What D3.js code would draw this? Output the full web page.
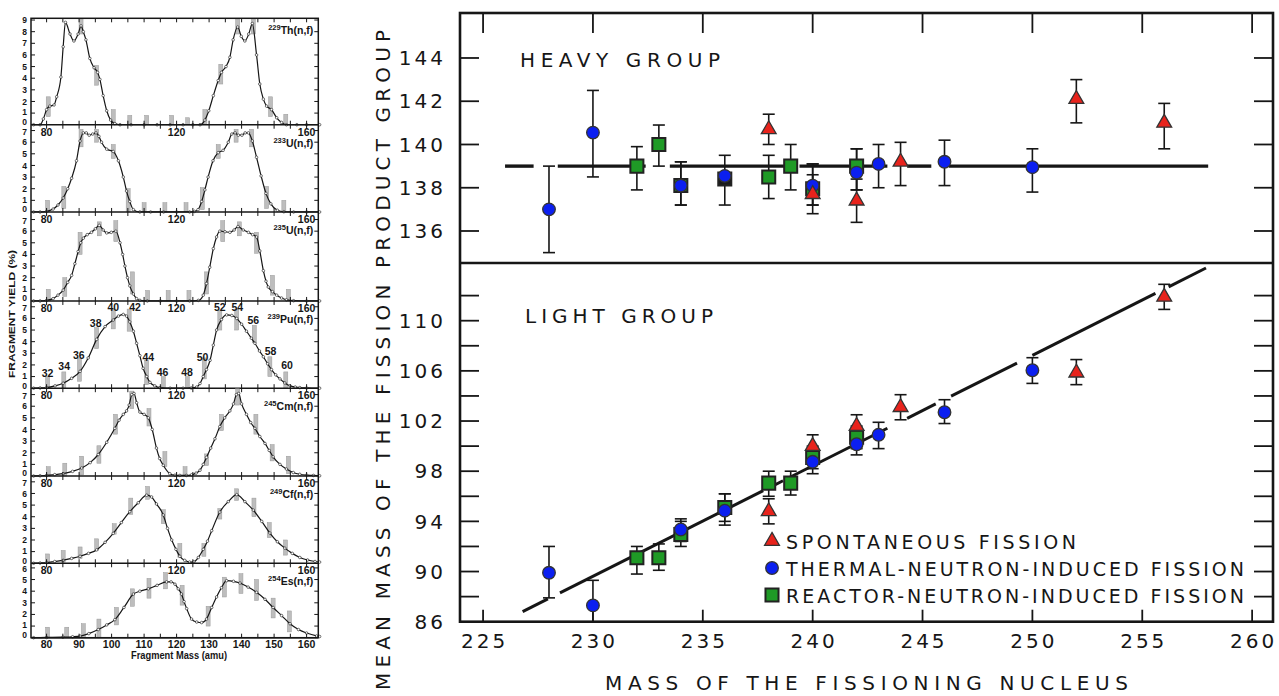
<!DOCTYPE html>
<html>
<head>
<meta charset="utf-8">
<script src="https://cdn.jsdelivr.net/npm/d3@7"></script>
<style>
  body { margin: 0; background: #fff; }
  svg { display: block; }
</style>
</head>
<body>
<svg id="chart" width="1279" height="696"></svg>
<script>
// ================= Fragment-mass yield distributions (left panel) =================
const isotopeMass = ["229", "233", "235", "239", "245", "249", "254"];
const isotopeElem = ["Th", "U", "U", "Pu", "Cm", "Cf", "Es"];
const yieldTop = [9.15, 7.5, 7.65, 7.5, 7.55, 7.5, 6.4];   // upper end of each yield axis (%)
const yieldTickMax = [9, 7, 7, 7, 7, 7, 6];
const massInnerLabels = [80, 120, 160];
const massBottomLabels = [80, 90, 100, 110, 120, 130, 140, 150, 160];

// [fragment mass (amu), yield (%)]
const curveTh229 = [[76,0],[78,0],[79,0.5],[80,1.3],[81,1.6],[82.3,1.7],[83.1,2.4],[84.4,4.1],[85.1,6.7],[85.8,8.8],[87.2,7.8],[88.4,7.2],[89.7,7.8],[90.6,8.5],[91.3,8.0],[92.1,7.3],[93.3,5.7],[94.6,4.9],[95.7,4.5],[96.4,3.9],[97.4,2.5],[98.5,1.2],[99.7,0.4],[101,0.1],[102.6,0],[106,0],[110,0],[114,0],[118,0],[122,0],[125,0],[127.2,0],[128.7,0.4],[129.9,1.2],[131.3,2.5],[132.8,3.8],[133.8,4.5],[135.2,5.0],[136.4,5.8],[137.4,7.3],[138.8,8.4],[139.9,7.6],[141.0,7.2],[142.2,7.8],[143.3,8.7],[144.6,6.0],[145.6,3.5],[146.7,2.2],[147.7,1.6],[149.2,1.3],[150.8,0.6],[152.3,0.2],[153.8,0],[157,0],[160,0],[164,0]];
const curveU233 = [[76,0],[78,0],[80,0.05],[82,0.25],[83.5,0.6],[85.1,1.2],[86.5,2.0],[87.7,2.9],[89.2,4.4],[90.3,6.1],[91.3,6.8],[92.2,6.8],[93.1,6.6],[94.2,6.7],[95.2,6.8],[96.1,6.5],[96.9,6.0],[98.5,5.4],[100.5,5.2],[102.1,4.4],[103.6,3.0],[104.6,1.8],[105.6,0.9],[106.7,0.2],[108.7,0],[112,0],[116,0],[120,0],[124,0],[125.5,0.05],[126.6,0.2],[127.7,0.9],[128.7,1.9],[129.7,3.0],[131.2,4.4],[132.8,5.1],[134.3,5.3],[135.9,6.0],[137.0,6.7],[138.0,6.8],[139.0,6.6],[140.1,6.6],[141.1,6.8],[142.1,6.8],[143.3,6.1],[144.6,4.7],[146,3.1],[147.5,1.6],[149,0.7],[151,0.15],[153,0.02],[156,0],[160,0],[164,0]];
const curveU235 = [[76,0],[78,0],[80,0.05],[82,0.2],[83.5,0.5],[85.1,0.93],[86.5,1.6],[87.7,2.2],[88.7,3.2],[89.7,4.25],[90.5,5.0],[91.3,5.4],[92.5,5.7],[93.8,5.9],[95,6.2],[96.2,6.5],[97.4,6.1],[98.5,5.85],[99.9,5.9],[101.3,6.0],[102.6,5.0],[103.4,4.0],[104.1,3.0],[104.9,2.0],[105.6,1.3],[106.7,0.6],[107.7,0.2],[108.7,0.05],[111,0],[115,0],[120,0],[124,0],[126.7,0.05],[128.2,0.5],[129.2,1.5],[130.2,2.9],[131.3,4.5],[132.3,5.5],[133.3,6.0],[134.9,5.95],[136.4,5.9],[137.7,6.1],[138.9,6.4],[140.5,6.1],[142.1,5.9],[143.4,5.7],[144.6,5.5],[145.6,4.3],[146.7,2.6],[147.5,1.7],[148.2,1.2],[149.5,0.8],[150.8,0.5],[152.3,0.25],[153.8,0.1],[156,0.02],[160,0],[164,0]];
const curvePu239 = [[76,0],[78,0.02],[80,0.05],[82.6,0.2],[85.1,0.43],[87.7,0.85],[90.3,1.45],[92.8,2.6],[95.4,4.2],[98,5.3],[100.5,5.86],[102.1,6.2],[103.6,6.34],[104.6,6.2],[105.6,5.7],[106.7,4.9],[107.7,3.86],[108.7,2.8],[109.7,1.71],[110.8,1.0],[111.8,0.5],[113.3,0.2],[114.9,0.05],[118,0],[122,0],[124.5,0.02],[126.2,0.1],[127.2,0.4],[128.2,1.0],[129.2,1.6],[130.3,2.4],[131.3,3.7],[132.3,5.0],[133.8,5.9],[135.4,6.3],[137,6.25],[138.5,6.0],[140,5.5],[141.5,4.9],[143,4.3],[144.1,3.86],[145.5,3.2],[146.7,2.7],[148,2.1],[149.2,1.6],[150.5,1.15],[151.8,0.8],[153.3,0.45],[154.9,0.2],[156.5,0.1],[157.9,0.05],[160,0.02],[164,0]];
const curveCm245 = [[76,0],[78,0.02],[80,0.05],[82.5,0.12],[85.1,0.2],[88,0.4],[90.8,0.69],[93.4,1.15],[95.9,1.85],[98.5,2.9],[101,4.1],[102.3,4.8],[103.6,5.3],[104.6,5.6],[105.4,6.1],[106.2,7.0],[106.9,7.1],[107.7,6.3],[108.7,5.5],[110,5.3],[111.3,5.0],[112.5,4.0],[113.8,2.4],[114.8,1.5],[115.9,0.92],[117.9,0.2],[119.5,0.07],[121,0.05],[123,0.05],[124.6,0.1],[126,0.25],[127.2,0.5],[128.2,1.0],[129.2,1.6],[130.5,2.4],[131.8,3.2],[133.3,4.25],[134.8,5.0],[136.4,5.6],[137.5,6.2],[138.4,7.0],[139.1,7.1],[140,6.2],[141.5,5.3],[142.8,4.6],[144.1,4.1],[145.6,3.4],[147.2,2.8],[148.5,2.2],[149.7,1.65],[151.8,1.0],[153.8,0.6],[155.9,0.3],[157.9,0.15],[160,0.08],[162.1,0.05],[164,0.02]];
const curveCf249 = [[76,0],[78,0.02],[80,0.05],[82.5,0.15],[85.1,0.25],[87.7,0.42],[90.3,0.6],[92.9,0.85],[95.4,1.15],[98,1.8],[100.5,2.57],[103,3.5],[105.6,4.43],[108.2,5.2],[110.8,5.85],[112.3,5.7],[113.8,5.1],[115.9,4.15],[117.2,3.0],[118.5,2.0],[119.8,1.2],[121,0.6],[122.5,0.25],[124,0.1],[125.3,0.12],[126.7,0.5],[128.2,1.2],[129.5,1.9],[130.8,2.8],[133.3,4.4],[135.9,5.3],[138.5,5.9],[141,5.3],[143.6,4.57],[146.2,3.6],[148.7,2.6],[151,1.85],[153.3,1.3],[155.6,0.85],[157.9,0.5],[160.3,0.28],[162.6,0.15],[164,0.1]];
const curveEs254 = [[76,0],[80,0.02],[85,0.05],[88,0.08],[90.3,0.14],[93,0.35],[95.9,0.7],[98.5,1.1],[101,1.55],[103.8,2.6],[106.7,3.75],[108.7,4.0],[111.3,4.2],[114,4.5],[116.9,4.8],[118.3,4.8],[119.5,4.6],[120.5,4.2],[121.5,3.75],[122.3,3.1],[123.1,2.5],[124.6,1.6],[126.2,1.35],[127.7,1.3],[129.2,1.6],[130.8,2.6],[132.3,3.5],[133.8,4.3],[135.4,4.9],[137.5,4.85],[139.5,4.7],[142,4.35],[144.6,3.9],[147.2,3.3],[149.7,2.6],[152.3,1.9],[154.9,1.2],[157.5,0.7],[160,0.4],[163.1,0.15],[164,0.1]];

// measured yield ranges: [mass, low, high]
const rangesTh229 = [[80.5,0.7,2.4],[90.6,7.8,9.1],[95.4,3.4,5.1],[100.5,0,1.3],[105.6,0,0.8],[110.8,0,0.8],[118.5,0,0.8],[123.4,0,0.6],[128.7,0.1,1.3],[133.6,3.5,5.2],[138.8,7.8,9.1],[143.6,7.8,9.1],[148.9,0.7,2.4],[153.6,0,0.9]];
const rangesU233 = [[80.3,0,1.0],[85.3,0.3,2.2],[90.6,5.6,7.1],[95.4,6.0,7.1],[100.5,4.6,5.8],[105.1,0,2.0],[110.0,0,0.8],[116.4,0,0.8],[122.9,0,0.8],[127.9,0.2,2.1],[132.8,4.6,5.8],[138.3,6.0,7.1],[143.1,5.6,7.1],[147.7,0.3,2.2],[153.0,0,1.0]];
const rangesU235 = [[80.5,0,1.0],[85.6,0.4,2.0],[90.3,4.0,5.9],[96.2,5.6,6.8],[101.3,5.1,6.9],[106.4,0.6,2.5],[111.1,0,0.9],[117.4,0,0.9],[123.8,0,0.9],[129.2,0.6,2.5],[134.2,5.1,6.9],[139.3,5.6,6.8],[144.6,4.1,5.9],[149.5,0.5,2.2],[154.4,0,1.0]];
const rangesPu239 = [[80.3,0,1.0],[85.3,0,1.4],[90.1,0.6,2.6],[95.4,3.4,5.2],[100.5,5.1,6.8],[105.4,4.9,6.8],[110.8,0.3,2.4],[115.9,0,1.0],[123.3,0,1.0],[128.5,0.8,2.6],[133.3,5.0,6.7],[138.5,5.0,6.8],[143.9,3.9,5.4],[148.7,1.0,2.7],[153.6,0,1.4]];
const rangesCm245 = [[80.5,0,0.8],[85.6,0,1.1],[90.8,0.1,1.7],[96.1,1.1,2.6],[101.2,3.6,5.3],[106.2,5.8,7.3],[111.5,4.3,5.8],[116.4,0.8,2.1],[122.6,0,0.8],[129.2,0.9,1.9],[133.8,3.9,5.3],[138.8,6.1,7.5],[144.4,3.6,5.3],[149.4,1.3,2.7],[154.4,0.2,1.7]];
const rangesCf249 = [[80.3,0,0.8],[85.1,0.1,1.1],[90.3,0.4,1.4],[95.4,1.1,2.1],[100.8,2.5,3.4],[105.9,4.2,5.6],[111.1,5.5,6.6],[115.9,3.4,4.6],[121.0,0.5,1.7],[128.4,0.6,1.7],[133.3,3.8,4.7],[138.5,5.4,6.4],[143.8,4.0,5.6],[148.5,2.2,3.5],[153.5,0.7,2.0]];
const rangesEs254 = [[80.3,0,0.9],[86.2,0,0.9],[91.3,0,1.2],[96.1,0,1.6],[101.5,1.1,2.6],[106.4,2.7,4.2],[111.5,3.4,5.1],[116.6,4.2,5.6],[121.7,2.8,4.5],[129.7,1.0,2.7],[134.7,3.5,5.2],[139.8,3.8,5.5],[144.6,3.2,5.0],[149.7,1.7,3.4],[154.7,0.5,2.3]];

const yieldCurves = [curveTh229, curveU233, curveU235, curvePu239, curveCm245, curveCf249, curveEs254];
const yieldRanges = [rangesTh229, rangesU233, rangesU235, rangesPu239, rangesCm245, rangesCf249, rangesEs254];

// charge-chain annotations on the 239Pu distribution
const puChainText  = ["32","34","36","38","40","42","44","46","48","50","52","54","56","58","60"];
const puChainMass  = [80.3, 85.4, 89.9, 95.1, 100.5, 107.2, 111.3, 115.7, 123.2, 128.0, 133.3, 138.7, 143.6, 148.9, 154.0];
const puChainYield = [1.3, 1.85, 2.85, 5.6, 7.0, 7.0, 2.65, 1.35, 1.35, 2.65, 7.0, 7.0, 5.85, 3.15, 1.95];

// ================= Mean fragment masses (right panel) =================
const xTicks = [225, 230, 235, 240, 245, 250, 255, 260];
const heavyTicks = [136, 138, 140, 142, 144];
const lightMinorTicks = [88, 90, 92, 94, 96, 98, 100, 102, 104, 106, 108, 110, 112];
const lightLabels = [86, 90, 94, 98, 102, 106, 110];

// [mass of fissioning nucleus, mean mass, error low, error high]
const heavySpontaneous = [[238,140.7,140.0,141.4],[240,137.7,136.8,138.6],[242,137.4,136.4,138.4],[244,139.2,138.1,140.1],[252,142.1,141.0,143.0],[256,141.0,139.8,141.9]];
const heavyThermal = [[228,137.0,135.0,139.0],[230,140.55,138.5,142.5],[234,138.1,137.2,139.2],[236,138.55,137.2,139.5],[240,138.1,137.2,139.1],[242,138.7,137.9,139.8],[243,139.1,138.0,140.0],[246,139.2,138.1,140.2],[250,138.95,137.8,139.8]];
const heavyReactor = [[232,139.0,137.9,139.9],[233,140.0,139.0,140.9],[234,138.1,137.2,139.2],[238,138.5,137.5,139.5],[239,139.0,137.9,140.0],[240,137.95,137.2,139.1],[242,139.0,137.9,139.8]];
const heavyUnmarked = [[236,138.4]];

const lightSpontaneous = [[238,94.8,93.8,95.8],[240,100.0,99.1,100.9],[242,101.6,100.6,102.5],[244,103.1,102.1,104.1],[252,105.85,104.9,106.9],[256,111.9,110.9,112.9]];
const lightThermal = [[228,89.9,87.9,92.0],[230,87.3,85.3,89.3],[234,93.35,92.4,94.2],[236,94.85,93.7,96.2],[240,98.75,97.8,99.7],[242,100.15,99.3,101.1],[243,100.9,99.8,101.9],[246,102.7,101.8,103.7],[250,106.05,105.0,107.05]];
const lightReactor = [[232,91.1,89.8,92.0],[233,91.1,90.1,92.2],[234,92.95,92.0,94.0],[236,95.1,94.0,96.2],[238,97.05,96.0,98.0],[239,97.05,96.1,98.0],[240,99.1,98.2,100.0],[242,100.7,99.8,101.6]];

// fitted trends: heavy group constant, light group linear
const heavyFitSpan = [226, 258];
const heavyFitLevel = 139.0;
const heavyFitGaps = [[227.3,228.4],[232.4,233.5],[239.0,239.4],[243.4,244.3],[245.4,246.2]];
const lightFitSpan = [226.8, 257.9];
const lightFitEnds = [86.8, 114.2];
const lightFitGaps = [[227.95,228.5],[237.75,238.1],[238.65,238.85],[243.4,244.3],[245.6,246.3],[249.3,250.0],[255.6,256.2]];

const legendLabels = ["SPONTANEOUS FISSION", "THERMAL-NEUTRON-INDUCED FISSION", "REACTOR-NEUTRON-INDUCED FISSION"];

// =====================================================================
const svg = d3.select("#chart");
const INK = "#161616";

// ---------------- left panel ----------------
const LP = { x0: 31, x1: 318.3, y0: 18.3, y1: 637.7 };
const fx = d3.scaleLinear().domain([75.2, 163.6]).range([LP.x0, LP.x1]);
const unitPx = (LP.y1 - LP.y0) / d3.sum(yieldTop);
let cursor = LP.y0;
const panels = yieldTop.map((top, i) => {
  const t = cursor, h = top * unitPx;
  cursor += h;
  return { i, top: t, bottom: t + h, y: d3.scaleLinear().domain([0, top]).range([t + h, t]) };
});

const left = svg.append("g").attr("font-family", "Liberation Sans").attr("font-weight", "bold").attr("fill", INK);
const massTicks = d3.range(75, 165, 5).filter(m => m > 75.2 && m < 163.6);
const smooth = d3.line().curve(d3.curveMonotoneX);

panels.forEach(p => {
  const g = left.append("g");
  // measured yield ranges
  g.selectAll("rect.range").data(yieldRanges[p.i]).join("rect")
    .attr("x", d => fx(d[0]) - 2).attr("width", 4)
    .attr("y", d => p.y(Math.min(d[2], yieldTop[p.i])))
    .attr("height", d => p.y(d[1]) - p.y(Math.min(d[2], yieldTop[p.i])))
    .attr("fill", "#bdbdbd").attr("stroke", "#9a9a9a").attr("stroke-width", 0.5);
  // yield curve
  const pts = yieldCurves[p.i].map(d => [fx(d[0]), p.y(d[1])]);
  g.append("path").attr("d", smooth(pts)).attr("fill", "none").attr("stroke", INK).attr("stroke-width", 1.2);
  g.selectAll("circle").data(pts).join("circle")
    .attr("cx", d => d[0]).attr("cy", d => d[1]).attr("r", 1.3)
    .attr("fill", "#fff").attr("stroke", INK).attr("stroke-width", 0.6);

  // yield ticks on both sides
  const yt = d3.range(1, yieldTickMax[p.i] + 1);
  g.selectAll("line.yl").data(yt).join("line").attr("class", "yl")
    .attr("x1", LP.x0).attr("x2", LP.x0 + 4).attr("y1", d => p.y(d)).attr("y2", d => p.y(d))
    .attr("stroke", INK).attr("stroke-width", 1);
  g.selectAll("line.yr").data(yt).join("line").attr("class", "yr")
    .attr("x1", LP.x1 - 4).attr("x2", LP.x1).attr("y1", d => p.y(d)).attr("y2", d => p.y(d))
    .attr("stroke", INK).attr("stroke-width", 1);
  // yield labels, spread slightly near the strip edges so neighbouring strips don't collide
  const last = yieldTickMax[p.i];
  const nudge = d => (d === 0 ? -2.6 : d === 1 ? -0.8 : (d === last && p.i > 0) ? 1.5 : 0);
  g.selectAll("text.yv").data(d3.range(0, last + 1)).join("text").attr("class", "yv")
    .attr("x", 27).attr("y", d => p.y(d) + nudge(d))
    .attr("dy", "0.36em").attr("text-anchor", "end")
    .attr("font-size", 8.5).text(d => d);
  // mass ticks along the bottom and top of each strip
  g.selectAll("line.mb").data(massTicks).join("line").attr("class", "mb")
    .attr("x1", d => fx(d)).attr("x2", d => fx(d)).attr("y1", p.bottom).attr("y2", p.bottom - 4)
    .attr("stroke", INK).attr("stroke-width", 1);
  g.selectAll("line.mt").data(massTicks).join("line").attr("class", "mt")
    .attr("x1", d => fx(d)).attr("x2", d => fx(d)).attr("y1", p.top).attr("y2", p.top + 4)
    .attr("stroke", INK).attr("stroke-width", 1);
  // mass labels just under the strip's top edge
  if (p.i > 0) {
    g.selectAll("text.ml").data(massInnerLabels).join("text").attr("class", "ml")
      .attr("x", d => fx(d)).attr("y", p.top + 7).attr("dy", "0.36em")
      .attr("text-anchor", "middle").attr("font-size", 10.5).text(d => d);
  }
  // isotope label
  const lab = g.append("text").attr("x", LP.x1 - 5).attr("y", p.top + (p.i === 0 ? 16 : 22))
    .attr("text-anchor", "end").attr("font-size", 10.5);
  lab.append("tspan").attr("font-size", 7.5).attr("dy", -4).text(isotopeMass[p.i]);
  lab.append("tspan").attr("dy", 4).text(isotopeElem[p.i] + "(n,f)");
  // strip boundary
  g.append("line").attr("x1", LP.x0).attr("x2", LP.x1).attr("y1", p.bottom).attr("y2", p.bottom)
    .attr("stroke", INK).attr("stroke-width", 1.5);
});

// chain annotations on the plutonium strip
const puPanel = panels[3];
left.append("g").selectAll("text").data(puChainText).join("text")
  .attr("x", (d, i) => fx(puChainMass[i])).attr("y", (d, i) => puPanel.y(puChainYield[i]))
  .attr("dy", "0.36em").attr("text-anchor", "middle").attr("font-size", 10.5).text(d => d);

left.append("rect").attr("x", LP.x0).attr("y", LP.y0).attr("width", LP.x1 - LP.x0).attr("height", LP.y1 - LP.y0)
  .attr("fill", "none").attr("stroke", INK).attr("stroke-width", 1.5);

left.append("g").selectAll("text").data(massBottomLabels).join("text")
  .attr("x", d => fx(d)).attr("y", LP.y1 + 7).attr("dy", "0.36em")
  .attr("text-anchor", "middle").attr("font-size", 10.5).text(d => d);
left.append("text").attr("x", 131).attr("y", 659).attr("font-size", 10.5)
  .attr("textLength", 96).attr("lengthAdjust", "spacingAndGlyphs").text("Fragment Mass (amu)");
left.append("text").attr("transform", "translate(15,378) rotate(-90)").attr("font-size", 9.5)
  .attr("textLength", 128).attr("lengthAdjust", "spacingAndGlyphs").text("FRAGMENT YIELD (%)");

// ---------------- right panel ----------------
const RP = { x0: 460, x1: 1273, top: 13, mid: 263, bottom: 621.7 };
const xr = d3.scaleLinear().domain([223.95, 260.95]).range([RP.x0, RP.x1]);
const yH = d3.scaleLinear().domain([134.52, 146.08]).range([RP.mid, RP.top]);
const yL = d3.scaleLinear().domain([86, 114.6]).range([RP.bottom, RP.mid]);

const right = svg.append("g").attr("font-family", "DejaVu Sans").attr("fill", INK);

// ticks
right.append("g").selectAll("line").data(xTicks).join("line")
  .attr("x1", d => xr(d)).attr("x2", d => xr(d)).attr("y1", RP.top).attr("y2", RP.top + 20)
  .attr("stroke", INK).attr("stroke-width", 1.8);
right.append("g").selectAll("line").data(xTicks).join("line")
  .attr("x1", d => xr(d)).attr("x2", d => xr(d)).attr("y1", RP.bottom).attr("y2", RP.bottom - 12)
  .attr("stroke", INK).attr("stroke-width", 1.8);
[RP.x0, RP.x1].forEach((xe, k) => {
  const dir = k === 0 ? 1 : -1;
  right.append("g").selectAll("line").data(heavyTicks).join("line")
    .attr("x1", xe).attr("x2", xe + dir * 19).attr("y1", d => yH(d)).attr("y2", d => yH(d))
    .attr("stroke", INK).attr("stroke-width", 1.8);
  right.append("g").selectAll("line").data(lightMinorTicks).join("line")
    .attr("x1", xe).attr("x2", xe + dir * 19).attr("y1", d => yL(d)).attr("y2", d => yL(d))
    .attr("stroke", INK).attr("stroke-width", 1.8);
});

// tick labels
const tickFont = { size: 20, ls: 3 };
right.append("g").selectAll("text").data(heavyTicks).join("text")
  .attr("x", 446).attr("y", d => yH(d)).attr("dy", "0.36em").attr("text-anchor", "end")
  .attr("font-size", tickFont.size).attr("letter-spacing", tickFont.ls).text(d => d);
right.append("g").selectAll("text").data(lightLabels).join("text")
  .attr("x", 446).attr("y", d => yL(d)).attr("dy", "0.36em").attr("text-anchor", "end")
  .attr("font-size", tickFont.size).attr("letter-spacing", tickFont.ls).text(d => d);
right.append("g").selectAll("text").data(xTicks).join("text")
  .attr("x", d => xr(d) + tickFont.ls / 2).attr("y", 648).attr("text-anchor", "middle")
  .attr("font-size", tickFont.size).attr("letter-spacing", tickFont.ls).text(d => d);

// fitted lines, broken where they meet the measured points
function segments(span, gaps) {
  const cuts = [span[0]];
  gaps.forEach(g => cuts.push(g[0], g[1]));
  cuts.push(span[1]);
  return d3.range(0, cuts.length, 2).map(k => [cuts[k], cuts[k + 1]]);
}
const lightAt = a => lightFitEnds[0] + (lightFitEnds[1] - lightFitEnds[0]) * (a - lightFitSpan[0]) / (lightFitSpan[1] - lightFitSpan[0]);
right.append("g").selectAll("line").data(segments(heavyFitSpan, heavyFitGaps)).join("line")
  .attr("x1", d => xr(d[0])).attr("x2", d => xr(d[1]))
  .attr("y1", yH(heavyFitLevel)).attr("y2", yH(heavyFitLevel))
  .attr("stroke", INK).attr("stroke-width", 3.4);
right.append("g").selectAll("line").data(segments(lightFitSpan, lightFitGaps)).join("line")
  .attr("x1", d => xr(d[0])).attr("x2", d => xr(d[1]))
  .attr("y1", d => yL(lightAt(d[0]))).attr("y2", d => yL(lightAt(d[1])))
  .attr("stroke", INK).attr("stroke-width", 3);

// error bars
function errorBars(data, y, lo) {
  const g = right.append("g").attr("stroke", INK).attr("stroke-width", 1.6);
  data.forEach(d => {
    const x = xr(d[0]);
    const yl = y(Math.max(d[2], lo)), yh = y(d[3]);
    g.append("line").attr("x1", x).attr("x2", x).attr("y1", yl).attr("y2", yh);
    g.append("line").attr("x1", x - 6).attr("x2", x + 6).attr("y1", yh).attr("y2", yh);
    if (d[2] >= lo) g.append("line").attr("x1", x - 6).attr("x2", x + 6).attr("y1", yl).attr("y2", yl);
  });
}
errorBars(heavyReactor, yH, 134.52);
errorBars(heavyThermal, yH, 134.52);
errorBars(heavySpontaneous, yH, 134.52);
errorBars(lightReactor, yL, 86);
errorBars(lightThermal, yL, 86);
errorBars(lightSpontaneous, yL, 86);

// markers
const RED = "#e8231c", BLUE = "#0b1ff0", GREEN = "#1f9a26";
const symTri = d3.symbol(d3.symbolTriangle, 95)();
const symSq = d3.symbol(d3.symbolSquare, 170)();
function squares(data, y, fill) {
  right.append("g").selectAll("path").data(data).join("path")
    .attr("d", symSq).attr("transform", d => `translate(${xr(d[0])},${y(d[1])})`)
    .attr("fill", fill).attr("stroke", "#222").attr("stroke-width", 2);
}
function circles(data, y) {
  right.append("g").selectAll("circle").data(data).join("circle")
    .attr("cx", d => xr(d[0])).attr("cy", d => y(d[1])).attr("r", 6.3)
    .attr("fill", BLUE).attr("stroke", "#333").attr("stroke-width", 1.3);
}
function triangles(data, y) {
  right.append("g").selectAll("path").data(data).join("path")
    .attr("d", symTri).attr("transform", d => `translate(${xr(d[0])},${y(d[1])})`)
    .attr("fill", RED).attr("stroke", "#333").attr("stroke-width", 1.3);
}
squares(heavyUnmarked, yH, "#1a1a1a");
squares(heavyReactor, yH, GREEN);
circles(heavyThermal, yH);
triangles(heavySpontaneous, yH);
squares(lightReactor, yL, GREEN);
circles(lightThermal, yL);
triangles(lightSpontaneous, yL);

// frame
right.append("rect").attr("x", RP.x0).attr("y", RP.top).attr("width", RP.x1 - RP.x0).attr("height", RP.bottom - RP.top)
  .attr("fill", "none").attr("stroke", INK).attr("stroke-width", 2.6);
right.append("line").attr("x1", RP.x0).attr("x2", RP.x1).attr("y1", RP.mid).attr("y2", RP.mid)
  .attr("stroke", INK).attr("stroke-width", 2.6);

// group titles
right.append("text").attr("x", 520).attr("y", 67).attr("font-size", 20)
  .attr("textLength", 200).attr("lengthAdjust", "spacing").text("HEAVY GROUP");
right.append("text").attr("x", 525).attr("y", 323).attr("font-size", 20)
  .attr("textLength", 188).attr("lengthAdjust", "spacing").text("LIGHT GROUP");

// legend
const legY = [541, 568, 595];
const legW = [290, 458, 458];
const lg = right.append("g");
lg.append("path").attr("d", symTri).attr("transform", `translate(772,${legY[0]})`)
  .attr("fill", RED).attr("stroke", "#333").attr("stroke-width", 1.3);
lg.append("circle").attr("cx", 772).attr("cy", legY[1]).attr("r", 6.3)
  .attr("fill", BLUE).attr("stroke", "#333").attr("stroke-width", 1.3);
lg.append("path").attr("d", symSq).attr("transform", `translate(772,${legY[2]})`)
  .attr("fill", GREEN).attr("stroke", "#222").attr("stroke-width", 2);
lg.selectAll("text").data(legendLabels).join("text")
  .attr("x", 786).attr("y", (d, i) => legY[i] + 8).attr("font-size", 19)
  .attr("textLength", (d, i) => legW[i]).attr("lengthAdjust", "spacing").text(d => d);

// axis titles
right.append("text").attr("x", 605).attr("y", 690).attr("font-size", 20)
  .attr("textLength", 523).attr("lengthAdjust", "spacing").text("MASS OF THE FISSIONING NUCLEUS");
right.append("text").attr("transform", "translate(390,690) rotate(-90)").attr("font-size", 20)
  .attr("textLength", 660).attr("lengthAdjust", "spacing").text("MEAN MASS OF THE FISSION PRODUCT GROUP");
</script>
</body>
</html>
